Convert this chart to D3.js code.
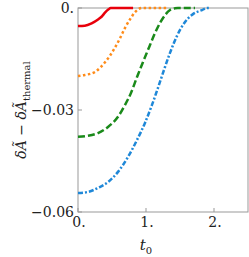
<!DOCTYPE html>
<html>
<head>
<meta charset="utf-8">
<script src="https://cdn.jsdelivr.net/npm/d3@7"></script>
<style>
  body { margin: 0; background: #fff; }
  svg text { font-family: 'DejaVu Serif', 'Liberation Serif', serif; }
</style>
</head>
<body>
<script>
// data (t0, value)
var redT = [0, 0.1, 0.2, 0.3, 0.35, 0.4, 0.45, 0.48, 0.81];
var redV = [-0.0053, -0.0052, -0.0045, -0.0033, -0.0025, -0.0013, -0.0004, 0, 0];

var orangeT = [0, 0.1, 0.25, 0.4, 0.54, 0.62, 0.69, 0.76, 0.84, 0.94, 1.31];
var orangeV = [-0.0200, -0.0197, -0.0188, -0.0159, -0.0118, -0.0088, -0.0059, -0.0035, -0.0012, 0, 0];

var greenT = [0, 0.147, 0.294, 0.441, 0.588, 0.691, 0.779, 0.868, 0.956, 1.059, 1.132, 1.206, 1.279, 1.353, 1.426, 1.47, 1.72];
var greenV = [-0.0379, -0.0376, -0.0368, -0.0350, -0.0320, -0.0285, -0.0250, -0.0203, -0.0159, -0.0109, -0.0074, -0.0044, -0.0021, -0.0006, -0.0001, 0, 0];

var blueT = [0, 0.147, 0.294, 0.441, 0.588, 0.735, 0.868, 0.985, 1.088, 1.176, 1.265, 1.353, 1.456, 1.574, 1.691, 1.824, 1.897, 1.94];
var blueV = [-0.0544, -0.0541, -0.0529, -0.0512, -0.0482, -0.0438, -0.0388, -0.0338, -0.0285, -0.0235, -0.0182, -0.0132, -0.0082, -0.0041, -0.0018, -0.0006, 0, 0];

var xTicks = [0, 1, 2];
var xTickLabels = ['0.', '1.', '2.'];
var yTicks = [0, -0.03, -0.06];
var yTickLabels = ['0.', '\u22120.03', '\u22120.06'];

window.onload = function () {
    draw();
};

function draw() {
    var width = 249,
        height = 257;
    var left = 78, right = 248, top = 8, bottom = 212;

    var x = d3.scaleLinear().domain([0, 2.5]).range([left, right]);
    var y = d3.scaleLinear().domain([-0.06, 0]).range([bottom, top]);

    var svg = d3.select('body').append('svg')
        .attr('width', width)
        .attr('height', height);

    // frame
    svg.append('rect')
        .attr('x', left).attr('y', top)
        .attr('width', right - left).attr('height', bottom - top)
        .attr('fill', 'none')
        .attr('stroke', '#999')
        .attr('stroke-width', 1);

    // ticks
    svg.selectAll('.xt').data(xTicks).enter().append('line')
        .attr('x1', function (d) { return x(d); })
        .attr('x2', function (d) { return x(d); })
        .attr('y1', bottom).attr('y2', bottom - 4)
        .attr('stroke', '#999');
    svg.selectAll('.yt').data(yTicks).enter().append('line')
        .attr('x1', left).attr('x2', left + 4)
        .attr('y1', function (d) { return y(d); })
        .attr('y2', function (d) { return y(d); })
        .attr('stroke', '#999');

    // tick labels
    svg.selectAll('.xl').data(xTicks).enter().append('text')
        .attr('x', function (d) { return x(d) + 1; })
        .attr('y', bottom + 15)
        .attr('fill', '#222')
        .style('font-size', '14px')
        .style('text-anchor', 'middle')
        .text(function (d, i) { return xTickLabels[i]; });
    svg.selectAll('.yl').data(yTicks).enter().append('text')
        .attr('x', left - 4)
        .attr('y', function (d) { return y(d) + 5; })
        .attr('fill', '#222')
        .style('font-size', '14px')
        .style('text-anchor', 'end')
        .text(function (d, i) { return yTickLabels[i]; });

    // axis labels
    svg.append('text')
        .attr('x', x(1))
        .attr('y', 250)
        .attr('fill', '#222')
        .style('font-size', '15px')
        .style('text-anchor', 'middle')
        .html('<tspan font-style="italic">t</tspan><tspan dy="4" font-size="10px">0</tspan>');

    svg.append('text')
        .attr('transform', 'translate(26,110) rotate(-90)')
        .attr('fill', '#222')
        .style('font-size', '14px')
        .style('text-anchor', 'middle')
        .html('<tspan font-style="italic">\u03b4\u00c3</tspan> \u2212 <tspan font-style="italic">\u03b4\u00c3</tspan><tspan dy="4" font-size="10px">thermal</tspan>');

    var line = d3.line()
        .x(function (d) { return x(d[0]); })
        .y(function (d) { return y(d[1]); })
        .curve(d3.curveMonotoneX);

    var series = [
        { t: redT, v: redV, color: '#e8000b', dash: null },
        { t: orangeT, v: orangeV, color: '#ff8c1a', dash: '2.5,2.5' },
        { t: greenT, v: greenV, color: '#1a8a1a', dash: '7,3' },
        { t: blueT, v: blueV, color: '#1f88d8', dash: '5,2,2,2' }
    ];

    svg.selectAll('.curve').data(series).enter().append('path')
        .attr('d', function (s) { return line(d3.zip(s.t, s.v)); })
        .attr('fill', 'none')
        .attr('stroke', function (s) { return s.color; })
        .attr('stroke-width', 2.5)
        .attr('stroke-dasharray', function (s) { return s.dash; });
}
</script>
</body>
</html>
